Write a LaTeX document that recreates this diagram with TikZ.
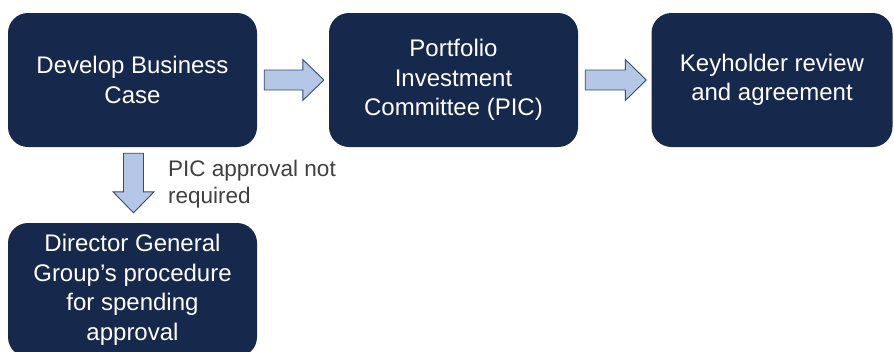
\documentclass[tikz,border=0pt]{standalone}
\usepackage{fontspec}
\setmainfont{Liberation Sans}
\usetikzlibrary{calc}
\definecolor{boxnavy}{HTML}{16284C}
\definecolor{arrowfill}{HTML}{B4C7E7}
\definecolor{arrowline}{HTML}{3A4B6E}
\definecolor{labelgrey}{HTML}{404040}
\tikzset{
  stagebox/.style={rectangle, rounded corners=20pt, fill=boxnavy, text=white,
    minimum width=249pt, minimum height=134pt, align=center, inner sep=0pt,
    font=\fontsize{24}{29.5}\selectfont},
  blockarrow/.style={fill=arrowfill, draw=arrowline, line width=0.9pt, line join=miter},
  notelabel/.style={text=labelgrey, align=left, anchor=west, inner sep=0pt,
    font=\fontsize{22.5}{27}\selectfont}
}
% block arrow from #1 to #2: shaft half width 10pt, head half width 20.5pt, head length 21pt
\newcommand\flowarrow[2]{%
  \path[blockarrow] let \p1=($(#2)-(#1)$), \n1={veclen(\x1,\y1)}, \n2={atan2(\y1,\x1)} in
    [shift={(#1)}, rotate=\n2]
    (0pt,-10pt) -- ({\n1-21pt},-10pt) -- ({\n1-21pt},-20.5pt) -- ({\n1+0pt},0pt)
    -- ({\n1-21pt},20.5pt) -- ({\n1-21pt},10pt) -- (0pt,10pt) -- cycle;}
\begin{document}
\begin{tikzpicture}[x=1pt,y=-1pt]
  \useasboundingbox (0,0) rectangle (894,351);
  \clip (0,0) rectangle (894,351);
  \fill[white] (0,0) rectangle (894,351);

  \node[stagebox] (develop) at (132.5,80) {Develop Business\\Case};
  \node[stagebox] (pic) at (453.5,80) {Portfolio\\Investment\\Committee (PIC)};
  \node[stagebox, minimum width=241pt] (keyholder) at (772,80) {Keyholder review\\and agreement};
  \node[stagebox] (director) at (132.5,290) {Director General\\Group’s procedure\\for spending\\approval};

  \coordinate (a1s) at ($(develop.east)+(7,0)$);
  \coordinate (a1e) at ($(pic.west)+(-5,0)$);
  \coordinate (a2s) at ($(pic.east)+(7,0)$);
  \coordinate (a2e) at ($(keyholder.west)+(-5,0)$);
  \coordinate (a3s) at ($(develop.south)+(1,6)$);
  \coordinate (a3e) at ($(director.north)+(1,-10)$);

  \flowarrow{a1s}{a1e}
  \flowarrow{a2s}{a2e}
  \flowarrow{a3s}{a3e}

  \node[notelabel] (note) at (168,184) {PIC approval not\\required};
\end{tikzpicture}
\end{document}
